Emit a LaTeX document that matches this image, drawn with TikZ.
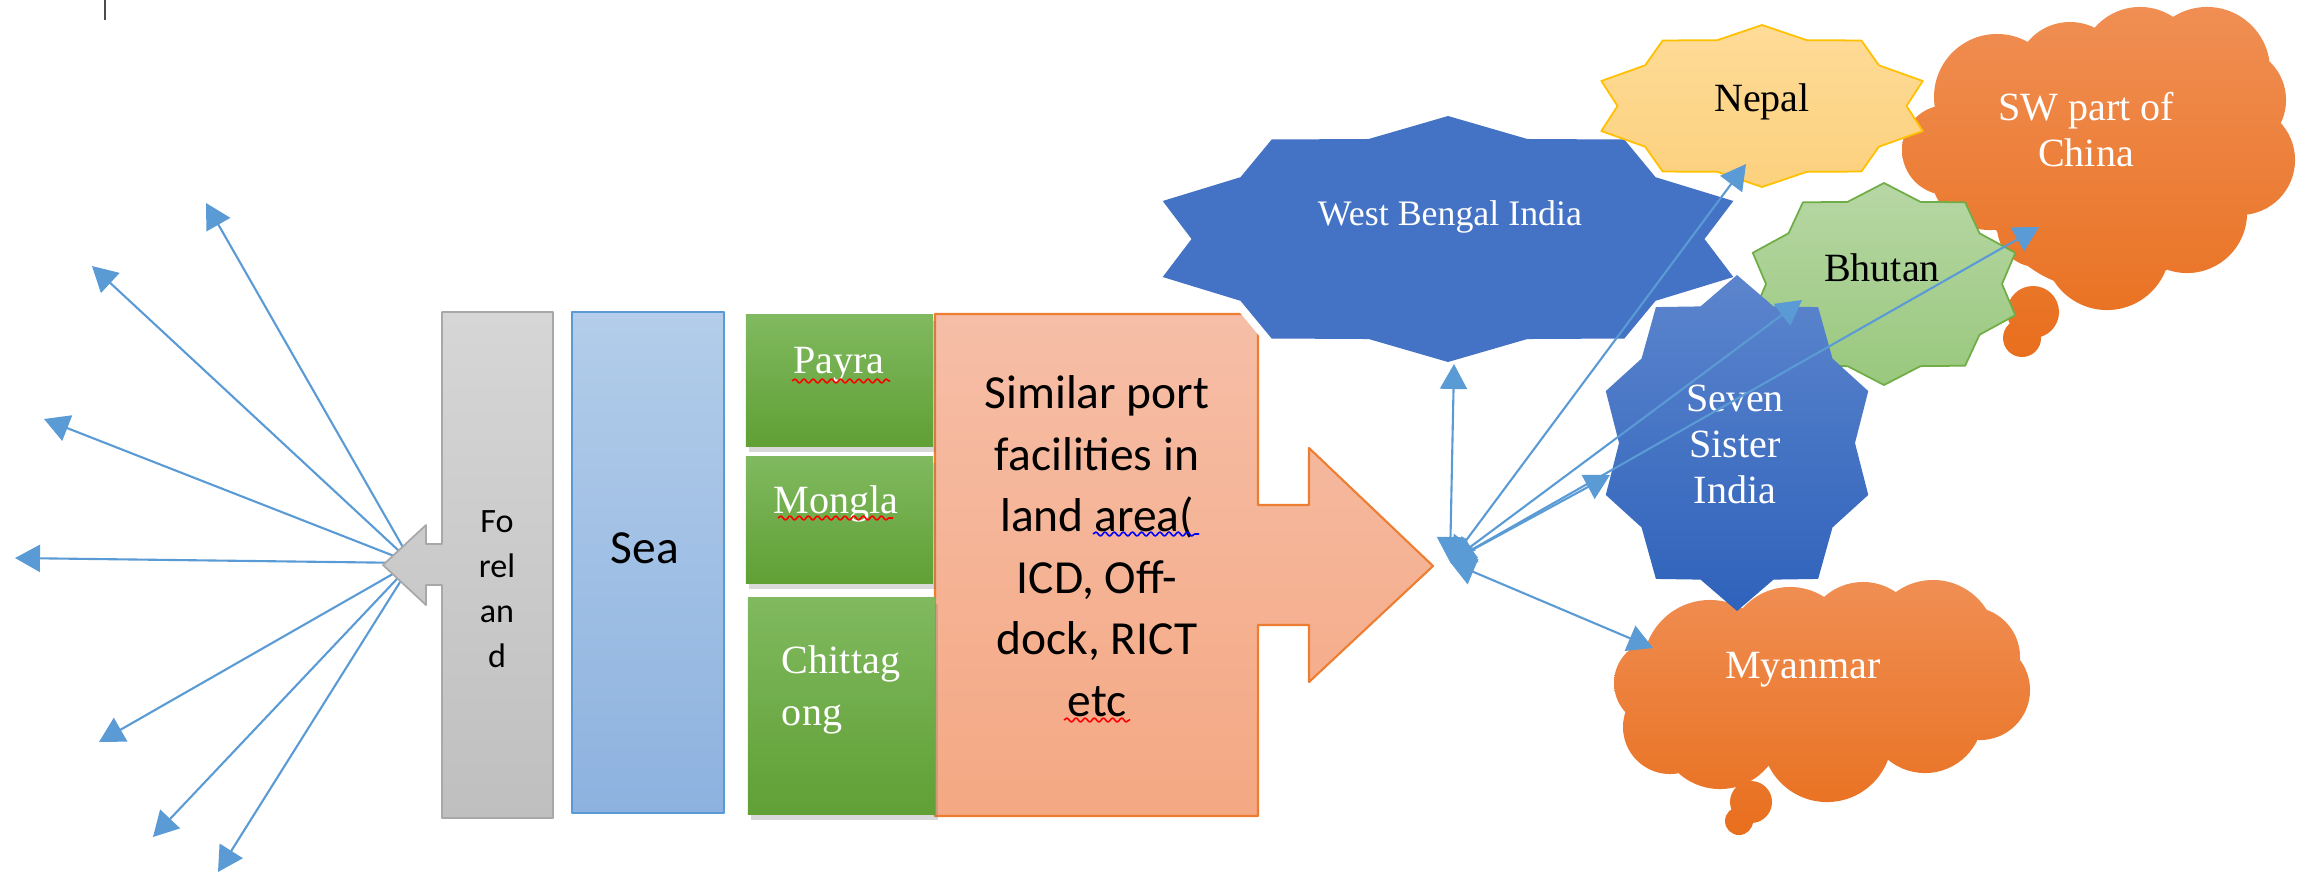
\documentclass[tikz,border=0pt]{standalone}
\usepackage{fontspec}
\setmainfont{Liberation Serif}
\newfontfamily\calibri{Carlito}
\usetikzlibrary{arrows.meta}
\usetikzlibrary{shadows}
\usetikzlibrary{decorations.pathmorphing}

\definecolor{arrowblue}{HTML}{5B9BD5}
\definecolor{wbblue}{HTML}{4472C4}
\definecolor{greytop}{HTML}{D6D6D6}
\definecolor{greybot}{HTML}{BFBFBF}
\definecolor{greyedge}{HTML}{A8A8A8}
\definecolor{seatop}{HTML}{B3CDEA}
\definecolor{seabot}{HTML}{8DB2DF}
\definecolor{greentop}{HTML}{80B95F}
\definecolor{greenbot}{HTML}{60A035}
\definecolor{salmontop}{HTML}{F6BEA7}
\definecolor{salmonbot}{HTML}{F4A883}
\definecolor{salmonedge}{HTML}{ED7D31}
\definecolor{nepaltop}{HTML}{FEDB97}
\definecolor{nepalbot}{HTML}{FCD17E}
\definecolor{nepaledge}{HTML}{FFC000}
\definecolor{bhutantop}{HTML}{B7D7A5}
\definecolor{bhutanbot}{HTML}{99C87D}
\definecolor{bhutanedge}{HTML}{70AD47}
\definecolor{sevtop}{HTML}{5C85CD}
\definecolor{sevbot}{HTML}{2F62BB}
\definecolor{cloudtop}{HTML}{F08E53}
\definecolor{cloudbot}{HTML}{E86F1D}

\newcommand\countrystar[4]{%
  \path[#1, shift={#2}] plot[samples at={0,...,19}]
    ({#3*(1-0.145*mod(\x,2))*cos(90+18*\x)}, {-#4*(1-0.145*mod(\x,2))*sin(90+18*\x)}) -- cycle;}

\begin{document}
\begin{tikzpicture}[x=0.01cm, y=-0.01cm, line join=round,
  >={Triangle[length=7.1pt,width=7.7pt]},
  link/.style={arrowblue, line width=0.6pt},
  portbox/.style={top color=greentop, bottom color=greenbot, minimum width=1.87cm, inner sep=0pt,
    drop shadow={shadow xshift=0.8pt, shadow yshift=-1.8pt, opacity=0.3}},
  forelabel/.style={font=\calibri\fontsize{9.7pt}{12.8pt}\selectfont, align=center, inner sep=0pt},
  bigsans/.style={font=\calibri\fontsize{13.5pt}{17.5pt}\selectfont, align=center, inner sep=0pt},
  country/.style={font=\fontsize{11.4pt}{13.1pt}\selectfont, align=center, inner sep=0pt, text=white},
  spell/.style={line width=0.45pt, decorate, decoration={snake, segment length=2.6pt, amplitude=0.55pt}}]

\useasboundingbox (0,0) rectangle (2310,878);

\draw [gray!60!black, line width=0.6pt] (105,0) -- (105,20);

\coordinate (forehub) at (412,563);
\foreach \i/\px/\py in {1/206/203, 2/92/266, 3/44/419, 4/15/558, 5/99/742, 6/153/837, 7/218/872}
  \coordinate (f\i) at (\px,\py);
\foreach \i in {1,...,7}
  \draw [link, ->] (forehub) -- (f\i);

\shade [top color=greytop, bottom color=greybot, draw=greyedge, line width=0.5pt]
  (442,312) -- (553,312) -- (553,818) -- (442,818) -- (442,585) -- (426,585) -- (426,605)
  -- (383,565) -- (426,525) -- (426,544) -- (442,544) -- cycle;
\node [forelabel] (foreland) at (497,589) {Fo\\rel\\an\\d};

\node [top color=seatop, bottom color=seabot, draw=arrowblue, line width=0.5pt, minimum width=1.52cm, minimum height=5.01cm] (seabox) at (648,562.5) {};
\node [bigsans] (sea) at (645,548) {Sea};

\shade [top color=salmontop, bottom color=salmonbot, draw=salmonedge, line width=0.6pt]
  (935,314) -- (1258,314) -- (1258,505) -- (1309,505) -- (1309,448) -- (1433,566)
  -- (1309,682) -- (1309,625) -- (1258,625) -- (1258,816) -- (935,816) -- cycle;
\node [bigsans] (inland) at (1097,546) {Similar port\\facilities in\\land area(\\ICD, Off-\\dock, RICT\\etc};
\draw [spell, blue] (1093,534) -- (1199,534);
\draw [spell, red] (1064,720) -- (1130,720);

\node [portbox, minimum height=1.31cm] (payrabox) at (839.5,380.5) {};
\node [portbox, minimum height=1.26cm] (monglabox) at (839.5,520) {};
\node [portbox, minimum height=2.16cm] (chittabox) at (841.5,706) {};
\node [country] (payra) at (839,365) {Payra};
\node [country] (mongla) at (836,504) {Mongla};
\node [country, align=left, font=\fontsize{11.4pt}{14.8pt}\selectfont] (chitta) at (841,690) {Chittag\\ong};
\draw [spell, red] (792,381) -- (890,381);
\draw [spell, red] (778,518) -- (893,518);

\countrystar{fill=wbblue, preaction={draw=white, line width=4.5pt}}{(1448,239)}{300}{123}
\node [country, font=\fontsize{10.2pt}{12pt}\selectfont] (westbengal) at (1450,217) {West Bengal India};

\shade [top color=cloudtop, bottom color=cloudbot]
  (1997,97) circle[radius=0.63cm] (2070,77) circle[radius=0.55cm] (2140,67) circle[radius=0.60cm]
  (2207,70) circle[radius=0.63cm] (2233,100) circle[radius=0.53cm] (2240,160) circle[radius=0.55cm]
  (2187,213) circle[radius=0.60cm] (2107,247) circle[radius=0.63cm] (2037,227) circle[radius=0.40cm]
  (1947,150) circle[radius=0.45cm] (2100,170) circle[radius=1.2cm] (1990,170) circle[radius=0.6cm]
  (2033,312) circle[radius=0.26cm] (2022,338) circle[radius=0.19cm];
\node [country, font=\fontsize{11.4pt}{13.1pt}\selectfont] (china) at (2086,130) {SW part of\\China};

\countrystar{top color=nepaltop, bottom color=nepalbot, draw=nepaledge, line width=0.5pt}{(1762,106)}{169}{81}
\node [country, text=black] (nepal) at (1762,102) {Nepal};

\countrystar{top color=bhutantop, bottom color=bhutanbot, draw=bhutanedge, line width=0.5pt}{(1884,284)}{138}{101}
\node [country, text=black] (bhutan) at (1882,268) {Bhutan};

\shade [top color=cloudtop, bottom color=cloudbot]
  (1657,683) circle[radius=0.43cm] (1670,727) circle[radius=0.47cm] (1710,667) circle[radius=0.67cm]
  (1790,650) circle[radius=0.63cm] (1863,640) circle[radius=0.58cm] (1933,643) circle[radius=0.63cm]
  (1970,657) circle[radius=0.50cm] (1980,690) circle[radius=0.50cm] (1925,715) circle[radius=0.58cm]
  (1827,737) circle[radius=0.65cm] (1720,727) circle[radius=0.62cm] (1820,690) circle[radius=0.8cm]
  (1751,802) circle[radius=0.21cm] (1739,821) circle[radius=0.14cm];
\node [country] (myanmar) at (1803,670) {Myanmar};

\countrystar{top color=sevtop, bottom color=sevbot}{(1737,443)}{138}{168}
\node [country] (sevensister) at (1735,444) {Seven\\Sister\\India};

\coordinate (hub) at (1450,562);
\coordinate (wbin) at (1454,364);
\coordinate (nepalin) at (1746,164);
\coordinate (bhutanin) at (1802,300);
\coordinate (chinain) at (2039,227);
\coordinate (sevenin) at (1610,475);
\coordinate (myanmarin) at (1653,648);
\foreach \t in {wbin, nepalin, bhutanin, chinain, sevenin, myanmarin}
  \draw [link, <->] (hub) -- (\t);
\end{tikzpicture}
\end{document}
